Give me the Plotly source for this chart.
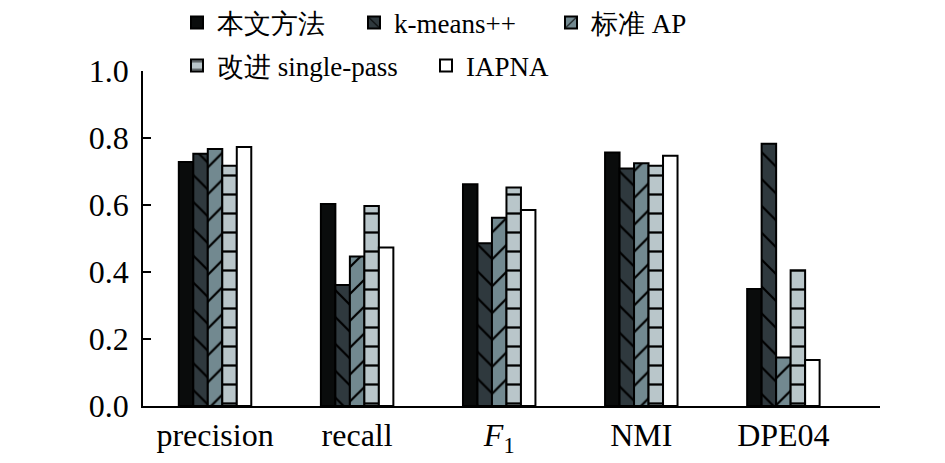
import plotly.graph_objects as go

categories = ["precision", "recall", "<i>F</i><sub>1</sub>", "NMI", "DPE04"]
series_names = ["本文方法", "k-means++", "标准 AP", "改进 single-pass", "IAPNA"]
v_ours = [0.728, 0.603, 0.662, 0.757, 0.349]
v_kmeans = [0.753, 0.361, 0.486, 0.709, 0.783]
v_ap = [0.767, 0.446, 0.562, 0.725, 0.145]
v_single = [0.717, 0.597, 0.652, 0.717, 0.405]
v_iapna = [0.773, 0.473, 0.585, 0.747, 0.137]
y_ticks = [0.0, 0.2, 0.4, 0.6, 0.8, 1.0]

values = [v_ours, v_kmeans, v_ap, v_single, v_iapna]
colors = ["#0a0c0c", "#2f393e", "#728990", "#b9c6ca", "#ffffff"]
shapes = ["", "\\", "/", "-", ""]
# legend swatch left edges (px, page coords) and rows
leg_x = [183, 360, 557, 183, 432]
leg_y = [23, 23, 23, 66, 66]

FONT = "Liberation Serif"
OFF = 8  # default page body margin
W, H = 945 - OFF, 463 - OFF

fig = go.Figure()
for i, (name, vals) in enumerate(zip(series_names, values)):
    lg = "legend" if i == 0 else f"legend{i+1}"
    fig.add_trace(go.Bar(
        x=categories, y=vals, name=name,
        marker=dict(color=colors[i], line=dict(color="#000000", width=2),
                    pattern=dict(shape=shapes[i], fgcolor="#000000", bgcolor=colors[i],
                                 size=19, solidity=0.12, fillmode="replace")),
        legend=lg,
    ))

legends = {}
for i in range(5):
    key = "legend" if i == 0 else f"legend{i+1}"
    legends[key] = dict(
        xref="container", yref="container",
        x=(leg_x[i] - 6 - OFF) / W, y=1 - (leg_y[i] - OFF) / H,
        xanchor="left", yanchor="middle",
        bgcolor="rgba(0,0,0,0)", borderwidth=0,
        font=dict(family=FONT, size=27, color="#000000"),
        orientation="h", itemclick=False,
    )

fig.update_layout(
    width=W, height=H,
    margin=dict(l=143 - OFF, r=65, t=71 - OFF, b=57, autoexpand=False),
    paper_bgcolor="white", plot_bgcolor="white",
    barmode="group", bargap=0.49, bargroupgap=0,
    font=dict(family=FONT, size=32, color="#000000"),
    showlegend=True,
    xaxis=dict(range=[-0.507, 4.68], showline=True, linecolor="#000000", linewidth=1.5,
               ticks="", showgrid=False, zeroline=False,
               tickfont=dict(family=FONT, size=32, color="#000000")),
    yaxis=dict(range=[0, 1.0], tickvals=y_ticks, tickformat=".1f",
               showline=True, linecolor="#000000", linewidth=1.5,
               ticks="inside", ticklen=8, tickwidth=1.5, tickcolor="#000000",
               showgrid=False, zeroline=False, ticklabelstandoff=6,
               tickfont=dict(family=FONT, size=32, color="#000000")),
    **legends,
)

fig.write_html("out.html")
